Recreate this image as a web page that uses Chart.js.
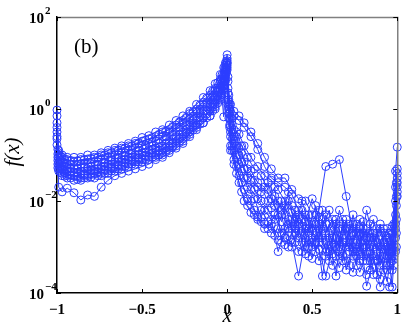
<!DOCTYPE html>
<html>
<head>
<meta charset="utf-8">
<script src="https://cdn.jsdelivr.net/npm/chart.js@4.4.1/dist/chart.umd.min.js"></script>
<style>
  html, body { margin: 0; padding: 0; background: #fff; }
  #wrap { width: 409px; height: 327px; }
</style>
</head>
<body>
<div id="wrap"><canvas id="myChart" width="409" height="327"></canvas></div>
<script>
// x positions of the first group of curves
var xs = [-1, -0.99, -0.97, -0.94, -0.9, -0.86, -0.82, -0.78, -0.74, -0.7,
  -0.66, -0.62, -0.58, -0.54, -0.5, -0.46, -0.42, -0.38, -0.34, -0.3,
  -0.26, -0.22, -0.18, -0.14, -0.1, -0.07, -0.04, -0.02, -0.01, 0,
  0.01, 0.02, 0.04, 0.07, 0.1, 0.14, 0.18, 0.22, 0.26, 0.3,
  0.34, 0.38, 0.42, 0.46, 0.5, 0.54, 0.58, 0.62, 0.66, 0.7,
  0.74, 0.78, 0.82, 0.86, 0.9, 0.94, 0.97, 0.99, 1];

// x positions of the second group (in between)
var xs2 = [-0.995, -0.98, -0.955, -0.92, -0.88, -0.84, -0.8, -0.76, -0.72, -0.68,
  -0.64, -0.6, -0.56, -0.52, -0.48, -0.44, -0.4, -0.36, -0.32, -0.28,
  -0.24, -0.2, -0.16, -0.12, -0.085, -0.055, -0.03, -0.015, -0.005, 0.005,
  0.015, 0.03, 0.055, 0.085, 0.12, 0.16, 0.2, 0.24, 0.28, 0.32,
  0.36, 0.4, 0.44, 0.48, 0.52, 0.56, 0.6, 0.64, 0.68, 0.72,
  0.76, 0.8, 0.84, 0.88, 0.92, 0.955, 0.98, 0.995];

// f(x) values, first group
var serA = [0.95, 0.126, 0.1, 0.089, 0.089, 0.089, 0.1, 0.1, 0.112, 0.126,
  0.141, 0.158, 0.178, 0.2, 0.24, 0.263, 0.316, 0.355, 0.447, 0.562,
  0.708, 0.891, 1.26, 1.78, 2.51, 3.55, 5.62, 7.94, 10, 15.1,
  2.0, 1.26, 0.891, 0.708, 0.5, 0.316, 0.178, 0.089, 0.05, 0.0316,
  0.0316, 0.0178, 0.0112, 0.01, 5e-3, 3.16e-3, 2e-3, 3.98e-3, 1.26e-3, 2.51e-3,
  1.26e-3, 2.51e-3, 1e-3, 2e-3, 7.9e-4, 1.58e-3, 5e-4, 4.47e-2, 0.148];
var serB = [0.5, 0.089, 0.0708, 0.0631, 0.0562, 0.0631, 0.0631, 0.0708, 0.0794, 0.089,
  0.1, 0.112, 0.126, 0.141, 0.158, 0.178, 0.2, 0.251, 0.316, 0.398,
  0.5, 0.631, 0.891, 1.26, 1.78, 2.51, 3.98, 5.62, 7.94, 11.2,
  1.41, 0.891, 0.708, 0.562, 0.398, 0.251, 0.132, 0.0562, 0.0316, 0.0251,
  0.02, 0.0141, 6.31e-3, 3.55e-3, 0.0112, 4.47e-3, 3.16e-3, 1.26e-3, 6.31e-3, 1.58e-3,
  3.16e-3, 7.94e-4, 6.31e-3, 1.26e-3, 2.51e-3, 6.31e-4, 2e-3, 0.01, 0.0398];
var serC = [0.316, 0.0708, 0.0562, 0.05, 0.05, 0.0447, 0.05, 0.05, 0.0562, 0.0631,
  0.0708, 0.0794, 0.089, 0.1, 0.112, 0.126, 0.141, 0.158, 0.2, 0.251,
  0.316, 0.447, 0.631, 0.891, 1.26, 1.78, 2.82, 3.98, 6.31, 10,
  0.794, 0.316, 0.2, 0.1, 0.05, 0.0282, 0.02, 0.0141, 7.08e-3, 0.01,
  5.01e-3, 7.94e-3, 3.16e-3, 5.01e-3, 2.51e-3, 6.31e-3, 0.0562, 0.0631, 0.0794, 0.0126,
  2e-3, 3.98e-3, 1.58e-3, 3.98e-3, 1e-3, 2.51e-3, 1e-3, 2.51e-3, 0.0126];
var serD = [0.708, 0.112, 0.089, 0.0794, 0.0708, 0.0794, 0.0794, 0.089, 0.1, 0.112,
  0.126, 0.141, 0.158, 0.178, 0.2, 0.224, 0.251, 0.316, 0.355, 0.447,
  0.562, 0.794, 1.0, 1.41, 2.0, 2.82, 4.47, 0.676, 7.08, 12.6,
  1.58, 0.631, 0.355, 0.282, 0.158, 0.089, 0.0562, 0.0355, 0.0282, 0.0178,
  0.01, 3.98e-3, 5.01e-3, 2e-3, 3.16e-3, 1.58e-3, 5.01e-3, 2.51e-3, 1.58e-3, 1e-3,
  5.01e-3, 1.26e-3, 5.01e-4, 1e-3, 3.16e-3, 3.98e-4, 2.82e-3, 0.02, 0.05];
var serE = [0.224, 0.0631, 0.05, 0.0447, 0.0398, 0.0398, 0.0447, 0.0447, 0.05, 0.0562,
  0.0631, 0.0708, 0.0794, 0.089, 0.1, 0.112, 0.126, 0.141, 0.178, 0.224,
  0.282, 0.398, 0.562, 0.794, 1.12, 1.58, 2.51, 3.55, 5.62, 8.91,
  1.0, 0.447, 0.251, 0.141, 0.0708, 0.0447, 0.0251, 0.02, 0.0112, 5.01e-3,
  7.94e-3, 2.51e-3, 1.58e-3, 2.51e-3, 1e-3, 2.51e-3, 7.94e-4, 1.58e-3, 1e-3, 3.98e-3,
  7.94e-4, 2e-3, 1.41e-4, 5.01e-4, 2e-4, 1e-3, 3.16e-4, 5.01e-3, 0.0251];
var serF = [0.398, 0.05, 0.0398, 0.0355, 0.0355, 0.0316, 0.0355, 0.0398, 0.0398, 0.0447,
  0.05, 0.0562, 0.0631, 0.0708, 0.0794, 0.089, 0.1, 0.112, 0.141, 0.178,
  0.224, 0.316, 0.447, 0.631, 0.891, 1.26, 2.0, 2.82, 4.47, 7.94,
  0.631, 0.158, 0.0794, 0.0355, 0.0178, 0.01, 4.47e-3, 3.16e-3, 2e-3, 2.51e-3,
  1.12e-3, 2e-3, 7.94e-4, 1.26e-3, 1.58e-3, 5.01e-4, 1.26e-3, 3.98e-4, 7.94e-4, 5.01e-4,
  2.82e-4, 1e-3, 2.51e-3, 2.51e-4, 6.31e-4, 1.78e-4, 7.94e-4, 7.94e-4, 0.0158];
var serG = [0.166, 0.0447, 0.0355, 0.0316, 0.0282, 0.0282, 0.0316, 0.0316, 0.0355, 0.0398,
  0.0447, 0.05, 0.0562, 0.0631, 0.0708, 0.0794, 0.089, 0.1, 0.126, 0.158,
  0.2, 0.282, 0.398, 0.5, 0.708, 1.0, 1.58, 2.51, 3.98, 7.08,
  0.794, 0.251, 0.126, 0.0631, 0.0316, 0.0178, 0.0112, 6.31e-3, 3.98e-3, 7.94e-4,
  2.51e-3, 1e-3, 2.51e-3, 7.08e-4, 1.26e-3, 8.91e-4, 2.34e-4, 1e-3, 3.55e-4, 1.26e-3,
  6.31e-4, 2.82e-4, 7.94e-4, 1.58e-3, 3.98e-4, 1.26e-3, 1.35e-4, 1.58e-3, 0.0316];
var serH = [0.251, 0.02, 0.0158, 0.019, 0.0151, 0.0105, 0.0135, 0.0126, 0.02, 0.0282,
  0.0355, 0.0398, 0.0447, 0.05, 0.0562, 0.0631, 0.0794, 0.089, 0.112, 0.141,
  0.178, 0.251, 0.355, 0.5, 0.708, 1.12, 1.78, 3.16, 5.01, 10,
  1.12, 0.126, 0.0631, 0.0251, 0.01, 5.62e-3, 3.98e-3, 2.51e-3, 3.16e-3, 1.41e-3,
  1.58e-3, 1.26e-3, 2.34e-4, 1.58e-3, 5.62e-4, 1.26e-3, 6.31e-4, 7.08e-4, 2.51e-3, 3.16e-4,
  1e-3, 5.01e-4, 2.51e-4, 6.31e-4, 1.35e-4, 3.16e-4, 6.31e-4, 3.16e-3, 0.02];

// second group
var serI = [0.132, 0.0955, 0.0813, 0.0759, 0.0741, 0.0794, 0.0832, 0.0891, 0.1, 0.112,
  0.126, 0.141, 0.158, 0.182, 0.209, 0.24, 0.282, 0.331, 0.417, 0.525,
  0.661, 0.871, 1.23, 1.74, 2.45, 3.72, 5.5, 7.59, 10.7, 5.01,
  1.26, 0.631, 0.316, 0.158, 0.0891, 0.05, 0.0355, 0.0178, 0.0126, 6.31e-3,
  0.01, 3.16e-3, 6.31e-3, 2e-3, 5.01e-3, 1.26e-3, 3.16e-3, 1e-3, 2.51e-3, 7.94e-4,
  2e-3, 6.31e-4, 1.58e-3, 5.01e-4, 1.26e-3, 3.98e-4, 2.51e-3, 0.0126];
var serJ = [0.105, 0.0776, 0.0661, 0.0617, 0.0589, 0.0631, 0.0661, 0.0708, 0.0794, 0.0891,
  0.1, 0.112, 0.126, 0.145, 0.166, 0.191, 0.219, 0.257, 0.324, 0.407,
  0.525, 0.692, 0.977, 1.35, 1.91, 2.88, 4.37, 6.17, 9.12, 2.82,
  0.631, 0.316, 0.158, 0.0708, 0.0316, 0.0178, 0.01, 6.31e-3, 3.98e-3, 0.01,
  2.51e-3, 6.31e-3, 1.26e-3, 5.01e-3, 1.26e-3, 3.98e-3, 7.94e-4, 3.16e-3, 6.31e-4, 2.51e-3,
  3.98e-4, 2.51e-3, 5.01e-4, 2e-3, 3.98e-4, 1.58e-3, 6.31e-4, 3.98e-3];
var serK = [0.0891, 0.0676, 0.0562, 0.0525, 0.05, 0.0537, 0.0562, 0.0603, 0.0676, 0.0759,
  0.0851, 0.0955, 0.107, 0.123, 0.138, 0.158, 0.182, 0.214, 0.269, 0.339,
  0.437, 0.589, 0.813, 1.12, 1.58, 2.34, 3.63, 5.25, 8.13, 1.58,
  0.447, 0.158, 0.0562, 0.0251, 0.0112, 6.31e-3, 3.55e-3, 2.51e-3, 5.01e-3, 2e-3,
  3.98e-3, 1.26e-3, 3.98e-3, 1e-3, 3.16e-3, 2.34e-4, 2e-3, 6.31e-4, 3.16e-3, 1e-3,
  2.51e-3, 5.01e-4, 3.16e-3, 7.94e-4, 2e-3, 6.31e-4, 3.16e-3, 0.0251];
var serL = [0.0759, 0.0575, 0.0479, 0.0437, 0.0417, 0.0447, 0.0468, 0.05, 0.0562, 0.0631,
  0.0708, 0.0794, 0.0891, 0.102, 0.115, 0.132, 0.148, 0.174, 0.219, 0.275,
  0.363, 0.49, 0.676, 0.933, 1.32, 1.95, 3.02, 4.47, 7.24, 3.98,
  1.0, 0.447, 0.251, 0.112, 0.05, 0.0282, 0.0158, 0.0251, 7.94e-3, 3.55e-3,
  0.0158, 2.51e-3, 0.01, 3.16e-3, 7.94e-4, 2.51e-3, 6.31e-3, 1.58e-3, 5.01e-4, 3.16e-3,
  7.94e-4, 2e-3, 3.16e-4, 2.51e-3, 6.31e-4, 2e-3, 1e-3, 2e-3];
var serM = [0.0631, 0.049, 0.0407, 0.0372, 0.0355, 0.038, 0.0398, 0.0427, 0.0479, 0.0537,
  0.0603, 0.0676, 0.0759, 0.0851, 0.0955, 0.11, 0.123, 0.145, 0.182, 0.229,
  0.302, 0.417, 0.562, 0.776, 1.1, 1.62, 2.51, 3.89, 6.46, 1.26,
  0.398, 0.126, 0.0398, 0.0158, 7.94e-3, 5.01e-3, 6.31e-3, 3.55e-3, 1.78e-3, 5.01e-3,
  1e-3, 3.98e-3, 7.94e-4, 2.51e-3, 7.94e-3, 1.58e-3, 5.01e-4, 3.98e-3, 1.26e-3, 3.98e-4,
  3.16e-3, 1e-3, 2e-3, 2.51e-4, 2.51e-3, 7.94e-4, 1.58e-3, 7.94e-3];
var serN = [0.0525, 0.0417, 0.0347, 0.0316, 0.0295, 0.0316, 0.0331, 0.0355, 0.0398, 0.0447,
  0.05, 0.0562, 0.0631, 0.0708, 0.0794, 0.0891, 0.1, 0.117, 0.148, 0.186,
  0.251, 0.347, 0.468, 0.646, 0.912, 1.35, 2.09, 3.31, 5.89, 2.24,
  0.794, 0.224, 0.1, 0.0447, 0.02, 0.0112, 4.47e-3, 0.01, 0.02, 1.26e-3,
  3.16e-3, 2e-3, 2.82e-3, 6.31e-4, 2e-3, 6.31e-3, 1.58e-3, 2.34e-4, 3.98e-3, 1.26e-3,
  6.31e-4, 3.55e-3, 7.94e-4, 1.26e-3, 3.16e-4, 1.35e-4, 3.98e-4, 1e-3];

var group1 = [serA, serB, serC, serD, serE, serF, serG, serH];
var group2 = [serI, serJ, serK, serL, serM, serN];

// axis ticks
var xTicks = [-1, -0.5, 0, 0.5, 1];
var yTicks = [1e-4, 1e-2, 1, 1e2];
var yTickExp = ['\u22124', '\u22122', '0', '2'];

var blue = '#2b3dff';

function makeSet(xv, s) {
  return {
    data: s.map(function(v, i) { return { x: xv[i], y: v }; }),
    showLine: true,
    borderColor: blue,
    borderWidth: 1,
    pointStyle: 'circle',
    pointRadius: 4,
    pointBorderWidth: 1,
    pointBorderColor: blue,
    pointBackgroundColor: 'rgba(0,0,0,0)',
    clip: false
  };
}

var datasets = group1.map(function(s) { return makeSet(xs, s); })
  .concat(group2.map(function(s) { return makeSet(xs2, s); }));

// frame, inward ticks, y labels with exponents, axis titles
var decor = {
  id: 'decor',
  afterDraw: function(chart) {
    var c = chart.ctx, a = chart.chartArea;
    var sx = chart.scales.x, sy = chart.scales.y;
    c.save();
    // top and right edges in grey
    c.strokeStyle = '#808080';
    c.lineWidth = 1.5;
    c.beginPath();
    c.moveTo(a.left, a.top + 0.5); c.lineTo(a.right + 0.5, a.top + 0.5);
    c.lineTo(a.right + 0.5, a.bottom);
    c.stroke();
    // inward ticks
    c.strokeStyle = '#000';
    c.lineWidth = 1;
    c.beginPath();
    xTicks.forEach(function(t) {
      var px = Math.round(sx.getPixelForValue(t)) + 0.5;
      c.moveTo(px, a.bottom); c.lineTo(px, a.bottom - 4);
      c.moveTo(px, a.top); c.lineTo(px, a.top + 4);
    });
    yTicks.forEach(function(t) {
      var py = Math.round(sy.getPixelForValue(t)) + 0.5;
      c.moveTo(a.left, py); c.lineTo(a.left + 4, py);
      c.moveTo(a.right, py); c.lineTo(a.right - 4, py);
    });
    c.stroke();
    // y tick labels 10^n
    c.fillStyle = '#000';
    c.textBaseline = 'alphabetic';
    c.textAlign = 'left';
    yTicks.forEach(function(t, i) {
      var py = sy.getPixelForValue(t);
      c.font = 'bold 15px "Liberation Serif", "Times New Roman", serif';
      c.fillText('10', 29, py + 6);
      var w = c.measureText('10').width;
      c.font = 'bold 11px "Liberation Serif", "Times New Roman", serif';
      c.fillText(yTickExp[i], 29 + w + 1, py - 3);
    });
    // axis titles
    c.font = 'italic 21px "Liberation Serif", "Times New Roman", serif';
    c.textAlign = 'center';
    c.fillText('x', sx.getPixelForValue(0), 322);
    c.save();
    c.translate(19, 152);
    c.rotate(-Math.PI / 2);
    c.fillText('f(x)', 0, 0);
    c.restore();
    // panel label
    c.font = '21px "Liberation Serif", "Times New Roman", serif';
    c.textAlign = 'left';
    c.fillText('(b)', 74, 53);
    c.restore();
  }
};

var ctx = document.getElementById('myChart').getContext('2d');
var myChart = new Chart(ctx, {
  type: 'scatter',
  data: { datasets: datasets },
  options: {
    responsive: false,
    animation: false,
    devicePixelRatio: 1,
    layout: { padding: { top: 17, right: 9, left: 0, bottom: 0 } },
    plugins: { legend: { display: false }, tooltip: { enabled: false } },
    scales: {
      x: {
        type: 'linear',
        min: -1,
        max: 1,
        afterBuildTicks: function(scale) {
          scale.ticks = xTicks.map(function(v) { return { value: v }; });
        },
        afterFit: function(scale) { scale.height = 34; },
        grid: { display: false, drawTicks: false },
        border: { display: true, color: '#000', width: 1.5 },
        ticks: {
          color: '#000',
          padding: 8,
          maxRotation: 0,
          autoSkip: false,
          font: { family: '"Liberation Serif", "Times New Roman", serif', size: 15, weight: 'bold' },
          callback: function(v) { return v < 0 ? '\u2212' + Math.abs(v) : String(v); }
        }
      },
      y: {
        type: 'logarithmic',
        min: 1e-4,
        max: 1e2,
        afterBuildTicks: function(scale) {
          scale.ticks = yTicks.map(function(v) { return { value: v }; });
        },
        afterFit: function(scale) { scale.width = 57; },
        grid: { display: false, drawTicks: false },
        border: { display: true, color: '#000', width: 1.5 },
        ticks: { display: false }
      }
    }
  },
  plugins: [decor]
});
</script>
</body>
</html>
